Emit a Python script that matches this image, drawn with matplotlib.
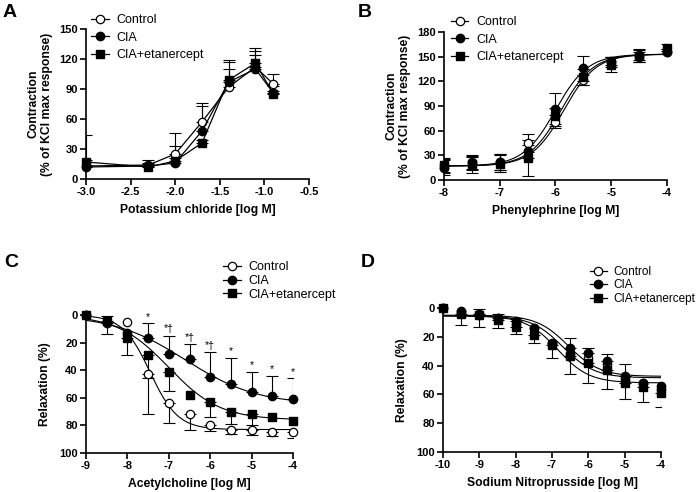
import numpy as np
import matplotlib
matplotlib.use("Agg")
import matplotlib.pyplot as plt
from matplotlib.lines import Line2D

plt.rcParams["font.family"] = ["Liberation Sans", "DejaVu Sans"]
plt.rcParams["axes.unicode_minus"] = False

labels = ["Control", "CIA", "CIA+etanercept"]

# Panel A: potassium chloride
a_x = [-3.0, -2.3, -2.0, -1.7, -1.4, -1.1, -0.9]
a_control = [13, 14, 25, 57, 92, 112, 95]
a_cia = [12, 13, 16, 48, 97, 110, 86]
a_etan = [17, 12, 18, 36, 99, 116, 85]
a_control_err = [31, 5, 21, 19, 27, 19, 10]
a_cia_err = [2, 3, 17, 25, 20, 18, 7]
a_etan_err = [2, 3, 3, 3, 11, 8, 3]

# Panel B: phenylephrine
b_x = [-8, -7.5, -7, -6.5, -6, -5.5, -5, -4.5, -4]
b_control = [18, 20, 22, 45, 71, 122, 143, 150, 156]
b_cia = [15, 22, 22, 35, 86, 136, 145, 152, 156]
b_etan = [18, 19, 20, 27, 78, 125, 140, 151, 161]
b_control_err = [8, 8, 10, 11, 8, 6, 6, 6, 3]
b_cia_err = [9, 9, 10, 8, 20, 15, 5, 6, 3]
b_etan_err = [9, 10, 10, 22, 10, 10, 9, 8, 4]
# fitted curves: bottom, top, logEC50, hill
b_fit = {"Control": (17, 153, -5.85, 1.5),
         "CIA": (17, 153, -6.0, 1.5),
         "CIA+etanercept": (17, 153, -5.9, 1.5)}

# Panel C: acetylcholine
c_x = [-9, -8.5, -8, -7.5, -7, -6.5, -6, -5.5, -5, -4.5, -4]
c_control = [0, 5, 5, 43, 64, 72, 80, 83, 83, 85, 85]
c_cia = [0, 6, 13, 17, 28, 32, 45, 50, 56, 59, 61]
c_etan = [0, 4, 17, 29, 41, 58, 63, 70, 72, 74, 77]
c_control_err = [0, 0, 0, 29, 14, 11, 4, 3, 4, 3, 4]
c_cia_err = [0, 5, 0, 11, 13, 11, 18, 19, 15, 15, 15]
c_etan_err = [0, 10, 12, 17, 14, 0, 11, 9, 8, 0, 0]
c_sig = ["", "", "", "*", "*†", "*†", "*†", "*", "*", "*", "*"]
c_fit = {"Control": (0, 83, -7.45, 1.3),
         "CIA": (0, 65, -6.6, 0.5),
         "CIA+etanercept": (0, 76, -7.0, 0.7)}

# Panel D: sodium nitroprusside
d_x = [-10, -9.5, -9, -8.5, -8, -7.5, -7, -6.5, -6, -5.5, -5, -4.5, -4]
d_control = [0, 3, 5, 7, 11, 14, 25, 32, 35, 39, 49, 52, 56]
d_cia = [0, 2, 4, 7, 9, 14, 24, 28, 31, 37, 47, 52, 54]
d_etan = [0, 4, 5, 8, 13, 19, 26, 33, 38, 43, 52, 55, 59]
d_cia_err = [0, 0, 3, 3, 2, 0, 0, 7, 3, 5, 8, 0, 0]
d_etan_err = [0, 8, 8, 6, 5, 5, 9, 13, 14, 13, 11, 10, 10]
d_fit = {"Control": (5.5, 48.5, -6.7, 1.0),
         "CIA": (5.0, 47.5, -6.55, 1.0),
         "CIA+etanercept": (5.5, 52, -6.85, 1.0)}

styles = {
    "Control": dict(marker="o", mfc="white", mec="black", ms=6, mew=0.9),
    "CIA": dict(marker="o", mfc="black", mec="black", ms=6),
    "CIA+etanercept": dict(marker="s", mfc="black", mec="black", ms=5.5),
}


def logistic(x, bottom, top, logec50, hill):
    return bottom + (top - bottom) / (1 + 10 ** ((logec50 - x) * hill))


def style_axes(ax):
    for s in ["top", "right"]:
        ax.spines[s].set_visible(False)
    for s in ["left", "bottom"]:
        ax.spines[s].set_linewidth(1.2)
    ax.tick_params(width=1.2, length=4, labelsize=8, pad=2)
    for t in ax.get_xticklabels() + ax.get_yticklabels():
        t.set_fontweight("bold")


def errbars(ax, x, y, err, up=True):
    x = np.array(x, float)
    y = np.array(y, float)
    err = np.array(err, float)
    m = err > 0
    zeros = np.zeros(m.sum())
    yerr = [zeros, err[m]] if up else [err[m], zeros]
    ax.errorbar(x[m], y[m], yerr=yerr, fmt="none", ecolor="black",
                elinewidth=0.8, capsize=4, capthick=0.8, zorder=2)


def add_legend(fig, x, y, spacing, size=9):
    handles = [Line2D([0], [0], color="black", lw=0.9, **styles[k]) for k in labels]
    fig.legend(handles, labels, loc="upper left", bbox_to_anchor=(x / 700, 1 - y / 492),
               frameon=False, fontsize=size, handlelength=1.4, handletextpad=0.6,
               labelspacing=spacing, borderpad=0, borderaxespad=0)


fig = plt.figure(figsize=(7, 4.92), dpi=100)

# ---- A
axA = fig.add_axes([86 / 700, 1 - 179 / 492, 223 / 700, 150 / 492])
errbars(axA, a_x, a_control, a_control_err)
errbars(axA, a_x, a_cia, a_cia_err)
errbars(axA, a_x, a_etan, a_etan_err)
for k, y in zip(labels, [a_control, a_cia, a_etan]):
    axA.plot(a_x, y, color="black", lw=0.9, zorder=3, clip_on=False, **styles[k])
axA.set_xlim(-3.0, -0.5)
axA.set_ylim(0, 150)
axA.set_xticks(np.arange(-3.0, -0.49, 0.5))
axA.set_xticklabels([f"{v:.1f}" for v in np.arange(-3.0, -0.49, 0.5)])
axA.set_yticks(range(0, 151, 30))
axA.set_xlabel("Potassium chloride [log M]", fontsize=8.7, fontweight="bold", labelpad=5)
axA.set_ylabel("Contraction\n(% of KCl max response)", fontsize=8.7, fontweight="bold", labelpad=4)
style_axes(axA)

# ---- B
axB = fig.add_axes([444 / 700, 1 - 180 / 492, 223 / 700, 148 / 492])
xs = np.linspace(-8, -4, 300)
for k in labels:
    axB.plot(xs, logistic(xs, *b_fit[k]), color="black", lw=0.8, zorder=2)
for k, y, e in zip(labels, [b_control, b_cia, b_etan], [b_control_err, b_cia_err, b_etan_err]):
    axB.errorbar(b_x, y, yerr=e, fmt="none", ecolor="black", elinewidth=0.8,
                 capsize=4, capthick=0.8, zorder=2)
    axB.plot(b_x, y, ls="none", zorder=3, clip_on=False, **styles[k])
axB.set_xlim(-8, -4)
axB.set_ylim(0, 180)
axB.set_xticks(range(-8, -3))
axB.set_yticks(range(0, 181, 30))
axB.set_xlabel("Phenylephrine [log M]", fontsize=8.7, fontweight="bold", labelpad=5)
axB.set_ylabel("Contraction\n(% of KCl max response)", fontsize=8.7, fontweight="bold", labelpad=4)
style_axes(axB)

# ---- C
axC = fig.add_axes([86 / 700, 1 - 453 / 492, 207 / 700, 138 / 492])
xs = np.linspace(-9, -4, 300)
for k in labels:
    axC.plot(xs, logistic(xs, *c_fit[k]), color="black", lw=0.8, zorder=2)
errbars(axC, c_x, c_control, c_control_err, up=True)
errbars(axC, c_x, c_etan, c_etan_err, up=True)
errbars(axC, c_x, c_cia, c_cia_err, up=False)
for k, y in zip(labels, [c_control, c_cia, c_etan]):
    axC.plot(c_x, y, ls="none", zorder=3, clip_on=False, **styles[k])
for x, y, e, s in zip(c_x, c_cia, c_cia_err, c_sig):
    if s:
        axC.text(x, y - e - 1, s, ha="center", va="bottom", fontsize=7.5)
axC.set_xlim(-9, -4)
axC.set_ylim(100, 0)
axC.set_xticks(range(-9, -3))
axC.set_yticks(range(0, 101, 20))
axC.set_xlabel("Acetylcholine [log M]", fontsize=8.7, fontweight="bold", labelpad=5)
axC.set_ylabel("Relaxation (%)", fontsize=8.7, fontweight="bold", labelpad=6)
style_axes(axC)

# ---- D
axD = fig.add_axes([443 / 700, 1 - 452 / 492, 218 / 700, 144 / 492])
xs = np.linspace(-10, -4, 300)
for k in labels:
    axD.plot(xs, logistic(xs, *d_fit[k]), color="black", lw=0.8, zorder=2)
errbars(axD, d_x, d_etan, d_etan_err, up=True)
errbars(axD, d_x, d_cia, d_cia_err, up=False)
for k, y in zip(labels, [d_control, d_cia, d_etan]):
    axD.plot(d_x, y, ls="none", zorder=3, clip_on=False, **styles[k])
axD.set_xlim(-10, -4)
axD.set_ylim(100, 0)
axD.set_xticks(range(-10, -3))
axD.set_yticks(range(0, 101, 20))
axD.set_xlabel("Sodium Nitroprusside [log M]", fontsize=8.7, fontweight="bold", labelpad=5)
axD.set_ylabel("Relaxation (%)", fontsize=8.7, fontweight="bold", labelpad=6)
style_axes(axD)

# legends
add_legend(fig, 91, 14, 0.45)
add_legend(fig, 451, 16, 0.45)
add_legend(fig, 223, 261, 0.15)
add_legend(fig, 590, 266, 0.12, size=8.5)

# panel letters
for letter, x, y in [("A", 3, 17), ("B", 358, 17), ("C", 4, 267), ("D", 361, 267)]:
    fig.text(x / 700, 1 - y / 492, letter, fontsize=14, fontweight="bold")

fig.savefig("out.png", dpi=100)
